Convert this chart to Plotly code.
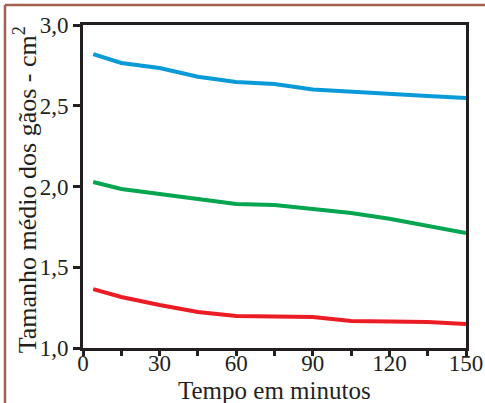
import plotly.graph_objects as go

tempo = [4, 15, 30, 45, 60, 75, 90, 105, 120, 135, 150]
serie_azul = [2.82, 2.765, 2.734, 2.68, 2.647, 2.635, 2.60, 2.585, 2.573, 2.56, 2.548]
serie_verde = [2.028, 1.985, 1.953, 1.92, 1.892, 1.885, 1.86, 1.836, 1.80, 1.755, 1.712]
serie_vermelha = [1.365, 1.316, 1.266, 1.223, 1.198, 1.198, 1.192, 1.167, 1.167, 1.161, 1.149]
x_ticks = [0, 30, 60, 90, 120, 150]
y_ticks = [1.0, 1.5, 2.0, 2.5, 3.0]
x_title = "Tempo em minutos"
y_title = "Tamanho médio dos gãos - cm<sup>2</sup>"

FONT = "Liberation Serif, Times New Roman, serif"
INK = "#231F20"

fig = go.Figure()
for ys, col in [(serie_azul, "#0A9AD8"), (serie_verde, "#06A550"), (serie_vermelha, "#EC1C24")]:
    fig.add_trace(go.Scatter(x=tempo, y=ys, mode="lines",
                             line=dict(color=col, width=4), showlegend=False,
                             hoverinfo="skip"))

fig.update_layout(
    width=485, height=403,
    margin=dict(l=83, r=19, t=25, b=55),
    paper_bgcolor="white", plot_bgcolor="white",
    separators=", ",
    font=dict(family=FONT, color=INK),
    xaxis=dict(range=[0, 150], tickvals=x_ticks, ticks="outside", ticklen=5,
               tickwidth=2.5, tickcolor=INK, showline=True, linewidth=3,
               linecolor=INK, mirror=True, showgrid=False, zeroline=False,
               automargin=False, ticklabelstandoff=-13,
               tickfont=dict(size=23, family=FONT, color=INK),
               minor=dict(dtick=15, tick0=0, ticks="outside", ticklen=5, tickwidth=2.5,
                          tickcolor=INK, showgrid=False)),
    yaxis=dict(range=[1, 3], tickvals=y_ticks, tickformat=".1f", ticks="outside",
               ticklen=7, tickwidth=2.5, tickcolor=INK, showline=True,
               linewidth=3, linecolor=INK, mirror=True, showgrid=False,
               zeroline=False, automargin=False,
               tickfont=dict(size=23, family=FONT, color=INK)),
    annotations=[
        dict(text=x_title, xref="paper", yref="paper", x=0.5, y=-0.133,
             xanchor="center", yanchor="middle", showarrow=False,
             font=dict(size=25, family=FONT, color=INK)),
        dict(text=y_title, xref="paper", yref="paper", x=-0.15, y=0.49,
             xanchor="center", yanchor="middle", showarrow=False, textangle=-90,
             font=dict(size=26, family=FONT, color=INK)),
    ],
    shapes=[
        dict(type="line", xref="paper", yref="paper", x0=-0.2037, x1=1.1,
             y0=1.0619, y1=1.0619, line=dict(color="#A5614F", width=2.5)),
        dict(type="line", xref="paper", yref="paper", x0=-0.2037, x1=-0.2037,
             y0=1.0619, y1=-0.2, line=dict(color="#A5614F", width=2.5)),
    ],
)

fig.write_html("out.html", config={"displayModeBar": False},
               post_script="document.body.style.margin='0';document.body.style.overflow='hidden';")
